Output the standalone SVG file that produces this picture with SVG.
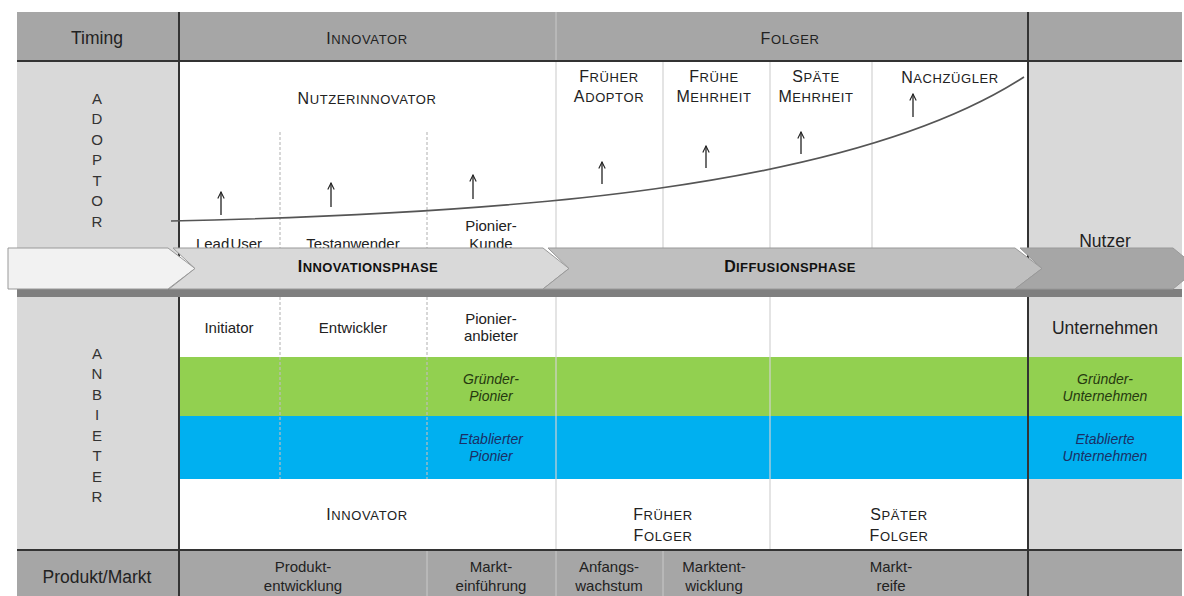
<svg xmlns="http://www.w3.org/2000/svg" width="1184" height="596" viewBox="0 0 1184 596">
<defs>
<style>
.t{font-family:"Liberation Sans",Arial,sans-serif;fill:#222;text-anchor:middle}
.sc{font-size:13px;letter-spacing:0.6px}
.big{font-size:16px}
.lbl{font-size:15px}
.lg{font-size:17.5px}
.it{font-size:14px;font-style:italic}
.gi{fill:#26390f}
.bi{fill:#1b2f66}
.ph{font-size:13px;font-weight:bold;fill:#111;letter-spacing:0.4px}
.phb{font-size:16px}
.let{font-size:15px;fill:#333}
.dk{stroke:#333;stroke-width:2;fill:none}
.lt{stroke:#d2d2d2;stroke-width:1.2;fill:none}
.lt2{stroke:#c4c4c4;stroke-width:1.2;fill:none}
.ds{stroke:#bdbdbd;stroke-width:1.2;stroke-dasharray:3 2;fill:none}
.arr{stroke:#222;stroke-width:1.3;fill:none;marker-end:url(#ah)}
.seg{stroke:#999;stroke-width:1}
</style>
<marker id="ah" viewBox="0 0 10 10" refX="9" refY="5" markerWidth="8" markerHeight="8" markerUnits="userSpaceOnUse" orient="auto">
<path d="M1,1 L9,5 L1,9" fill="none" stroke="#222" stroke-width="1.4"/>
</marker>
</defs>

<g id="background">
<rect x="17" y="12" width="1165" height="49" fill="#a6a6a6"/>
<rect x="17" y="61" width="162" height="489" fill="#d9d9d9"/>
<rect x="179" y="61" width="849" height="489" fill="#ffffff"/>
<rect x="1028" y="61" width="154" height="489" fill="#d9d9d9"/>
<rect x="179" y="357" width="1003" height="59" fill="#92d050"/>
<rect x="179" y="416" width="1003" height="63" fill="#00b0f0"/>
<rect x="17" y="550" width="1165" height="46" fill="#a6a6a6"/>
</g>

<g id="grid">
<line class="lt2" x1="556" y1="12" x2="556" y2="61"/>
<line class="lt" x1="556" y1="61" x2="556" y2="248"/>
<line class="lt" x1="663" y1="61" x2="663" y2="248"/>
<line class="lt" x1="770" y1="61" x2="770" y2="248"/>
<line class="lt" x1="872" y1="61" x2="872" y2="248"/>
<line class="ds" x1="280" y1="132" x2="280" y2="248"/>
<line class="ds" x1="427" y1="132" x2="427" y2="248"/>
<line class="ds" x1="280" y1="297" x2="280" y2="479"/>
<line class="ds" x1="427" y1="297" x2="427" y2="479"/>
<line class="lt" x1="556" y1="297" x2="556" y2="550"/>
<line class="lt" x1="770" y1="297" x2="770" y2="550"/>
<line class="lt2" x1="427" y1="550" x2="427" y2="596"/>
<line class="lt2" x1="556" y1="550" x2="556" y2="596"/>
<line class="lt2" x1="663" y1="550" x2="663" y2="596"/>
<line class="dk" x1="17" y1="61" x2="1182" y2="61"/>
<line class="dk" x1="17" y1="550" x2="1182" y2="550"/>
<line class="dk" x1="179" y1="12" x2="179" y2="596"/>
<line class="dk" x1="1028" y1="12" x2="1028" y2="596"/>
</g>

<g id="header">
<text class="t lg" x="97" y="44">Timing</text>
<text class="t sc" x="367" y="44"><tspan class="big">I</tspan>NNOVATOR</text>
<text class="t sc" x="790" y="44"><tspan class="big">F</tspan>OLGER</text>
</g>

<g id="adoptor-label">
<text class="t let" x="97" y="103.5">A</text>
<text class="t let" x="97" y="124">D</text>
<text class="t let" x="97" y="144.5">O</text>
<text class="t let" x="97" y="165">P</text>
<text class="t let" x="97" y="185.5">T</text>
<text class="t let" x="97" y="206">O</text>
<text class="t let" x="97" y="226.5">R</text>
</g>

<g id="adoptor-types">
<text class="t sc" x="367" y="104"><tspan class="big">N</tspan>UTZERINNOVATOR</text>
<text class="t sc" x="609" y="82"><tspan class="big">F</tspan>RÜHER</text>
<text class="t sc" x="609" y="102"><tspan class="big">A</tspan>DOPTOR</text>
<text class="t sc" x="714" y="82"><tspan class="big">F</tspan>RÜHE</text>
<text class="t sc" x="714" y="102"><tspan class="big">M</tspan>EHRHEIT</text>
<text class="t sc" x="816" y="82"><tspan class="big">S</tspan>PÄTE</text>
<text class="t sc" x="816" y="102"><tspan class="big">M</tspan>EHRHEIT</text>
<text class="t sc" x="950" y="83"><tspan class="big">N</tspan>ACHZÜGLER</text>
<text class="t lbl" x="229" y="249" word-spacing="-3">Lead User</text>
<text class="t lbl" x="353" y="249">Testanwender</text>
<text class="t lbl" x="491" y="231">Pionier-</text>
<text class="t lbl" x="491" y="249">Kunde</text>
<text class="t lg" x="1105" y="247">Nutzer</text>
</g>

<g id="connectors">
<path d="M171,221 C500,214 850,190 1024,77" fill="none" stroke="#555" stroke-width="1.6"/>
<line class="arr" x1="221" y1="215" x2="221" y2="192"/>
<line class="arr" x1="331" y1="207" x2="331" y2="183"/>
<line class="arr" x1="473" y1="199" x2="473" y2="175"/>
<line class="arr" x1="602" y1="184" x2="602" y2="162"/>
<line class="arr" x1="706" y1="168" x2="706" y2="146"/>
<line class="arr" x1="801" y1="154" x2="801" y2="132"/>
<line class="arr" x1="913" y1="117" x2="913" y2="94"/>
</g>

<g id="phase-band">
<rect x="17" y="289" width="1165" height="8" fill="#7f7f7f"/>
<polygon class="seg" points="8,248 168,248 195,268.5 168,289 8,289" fill="#f2f2f2"/>
<polygon class="seg" points="173,248 543,248 569,268.5 543,289 169,289 195,268.5" fill="#d9d9d9"/>
<polygon class="seg" points="548,248 1015,248 1042,268.5 1015,289 543,289 569,268.5" fill="#bfbfbf"/>
<polygon class="seg" points="1020,248 1173,248 1198,268.5 1173,289 1015,289 1042,268.5" fill="#a6a6a6"/>
<text class="t ph" x="368" y="272"><tspan class="phb">I</tspan>NNOVATIONSPHASE</text>
<text class="t ph" x="790" y="272"><tspan class="phb">D</tspan>IFFUSIONSPHASE</text>
</g>

<g id="anbieter-label">
<text class="t let" x="97" y="358.5">A</text>
<text class="t let" x="97" y="379">N</text>
<text class="t let" x="97" y="399.5">B</text>
<text class="t let" x="97" y="420">I</text>
<text class="t let" x="97" y="440.5">E</text>
<text class="t let" x="97" y="461">T</text>
<text class="t let" x="97" y="481.5">E</text>
<text class="t let" x="97" y="502">R</text>
</g>

<g id="anbieter-types">
<text class="t lbl" x="229" y="333">Initiator</text>
<text class="t lbl" x="353" y="333">Entwickler</text>
<text class="t lbl" x="491" y="324">Pionier-</text>
<text class="t lbl" x="491" y="341">anbieter</text>
<text class="t lg" x="1105" y="333.5">Unternehmen</text>
<text class="t it gi" x="491" y="384">Gründer-</text>
<text class="t it gi" x="491" y="401">Pionier</text>
<text class="t it gi" x="1105" y="384">Gründer-</text>
<text class="t it gi" x="1105" y="401">Unternehmen</text>
<text class="t it bi" x="491" y="444">Etablierter</text>
<text class="t it bi" x="491" y="461">Pionier</text>
<text class="t it bi" x="1105" y="444">Etablierte</text>
<text class="t it bi" x="1105" y="461">Unternehmen</text>
<text class="t sc" x="367" y="520"><tspan class="big">I</tspan>NNOVATOR</text>
<text class="t sc" x="663" y="520"><tspan class="big">F</tspan>RÜHER</text>
<text class="t sc" x="663" y="541"><tspan class="big">F</tspan>OLGER</text>
<text class="t sc" x="899" y="520"><tspan class="big">S</tspan>PÄTER</text>
<text class="t sc" x="899" y="541"><tspan class="big">F</tspan>OLGER</text>
</g>

<g id="produkt-markt">
<text class="t lg" x="97" y="582.5">Produkt/Markt</text>
<text class="t lbl" x="303" y="572">Produkt-</text>
<text class="t lbl" x="303" y="591">entwicklung</text>
<text class="t lbl" x="491" y="572">Markt-</text>
<text class="t lbl" x="491" y="591">einführung</text>
<text class="t lbl" x="609" y="572">Anfangs-</text>
<text class="t lbl" x="609" y="591">wachstum</text>
<text class="t lbl" x="714" y="572">Marktent-</text>
<text class="t lbl" x="714" y="591">wicklung</text>
<text class="t lbl" x="891" y="572">Markt-</text>
<text class="t lbl" x="891" y="591">reife</text>
</g>
</svg>
